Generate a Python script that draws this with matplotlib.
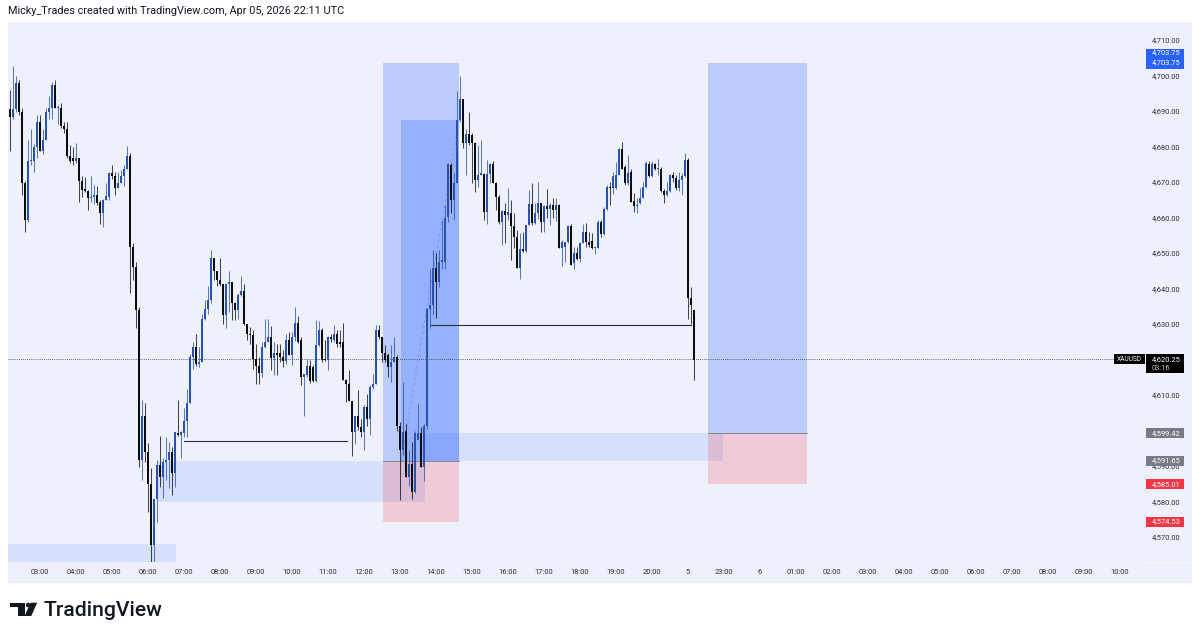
import matplotlib
matplotlib.use("Agg")
import matplotlib.pyplot as plt
from matplotlib.patches import Rectangle, Polygon, Circle

plt.rcParams['font.family'] = ['Roboto', 'DejaVu Sans']

# 5 minute XAUUSD candles
opens = [
    4690.7, 4688.6, 4690.7, 4698, 4690, 4670, 4659.5, 4676, 4676, 4680, 4687, 4679,
    4682, 4690, 4691, 4697.5, 4691, 4691, 4686, 4685, 4677.6, 4677, 4676, 4677,
    4670.6, 4668, 4667.8, 4665.6, 4666, 4666.5, 4664.5, 4661.6, 4665, 4666, 4672.6, 4672,
    4668.5, 4670, 4672, 4674, 4677.4, 4651.8, 4646.3, 4634, 4591.9, 4604.3, 4594.2, 4585.1,
    4567.9, 4580.8, 4590.5, 4587, 4591.4, 4591.8, 4594.2, 4588.3, 4599.4, 4599, 4599.6, 4603,
    4608, 4621, 4623.7, 4619, 4619.5, 4631.7, 4634.3, 4637, 4648.7, 4645, 4642.6, 4641.4,
    4632.7, 4641.4, 4642, 4636, 4634, 4638.3, 4639.5, 4630.3, 4627.5, 4627, 4620.4, 4618.5,
    4616.4, 4623.7, 4625, 4626.5, 4620.7, 4622, 4622, 4621, 4619.8, 4625.6, 4621.4, 4626.5,
    4630.5, 4625.8, 4615.3, 4615.7, 4618.5, 4618, 4614, 4624.2, 4628.6, 4620.4, 4620, 4626.5,
    4625.6, 4627.5, 4625, 4625, 4614.5, 4613.4, 4608.5, 4599.7, 4604.2, 4601.2, 4599.7, 4606.8,
    4603.5, 4612.4, 4613.4, 4628.4, 4626.4, 4621.9, 4621.4, 4618, 4619.5, 4621, 4601.6, 4594.7,
    4600, 4587.2, 4590.8, 4582.8, 4597.4, 4599.5, 4589.9, 4601.6, 4634.3, 4635.6, 4646.1, 4642.1,
    4647.8, 4647.7, 4660.4, 4675, 4665, 4669.8, 4687.7, 4693.5, 4681.1, 4683.8, 4683.5, 4681.1,
    4670.8, 4672.2, 4672.5, 4661.8, 4672.5, 4675.3, 4670, 4666, 4659, 4662, 4660.9, 4661.4,
    4657.8, 4654.8, 4646.1, 4651.2, 4650.8, 4658, 4664, 4658.7, 4661.4, 4664.2, 4659, 4663.3,
    4662.5, 4663.7, 4662.3, 4663.7, 4651.5, 4651.8, 4653.4, 4657.9, 4647.3, 4650.2, 4648.4, 4653,
    4656.2, 4653.4, 4653.6, 4651.5, 4651.5, 4659, 4655.5, 4662.5, 4668.9, 4668.4, 4668.5, 4672.2,
    4679.4, 4674.5, 4669.8, 4673, 4664.9, 4663.4, 4664.2, 4665.6, 4668.9, 4675.2, 4671.9, 4675.2,
    4673.8, 4674, 4667.8, 4666.5, 4667.8, 4672.2, 4671.2, 4668.4, 4670.8, 4671.9, 4676.4, 4637.4,
    4634.1,
]
highs = [
    4696, 4703, 4700, 4699, 4691, 4670.5, 4682, 4685, 4681, 4689, 4689, 4685,
    4691, 4694.5, 4698.5, 4699, 4692, 4692.4, 4687, 4687, 4680.6, 4680, 4681.3, 4677,
    4672, 4671.7, 4668, 4672, 4669.4, 4669, 4665, 4665.3, 4670, 4673, 4675, 4673,
    4673, 4673.6, 4675, 4680.4, 4678.5, 4653, 4647.7, 4635, 4608.8, 4608, 4596.8, 4589.5,
    4580.8, 4591.9, 4598.6, 4592.4, 4598.5, 4597, 4595.6, 4599.9, 4608.8, 4600.1, 4606.4, 4612,
    4621.8, 4625, 4627.3, 4623.7, 4633, 4637, 4641, 4651, 4648.7, 4645, 4648.7, 4641.6,
    4641.6, 4645, 4642, 4636.4, 4638.8, 4643.7, 4641.6, 4630.3, 4629.4, 4628.6, 4624.7, 4620.9,
    4625, 4631.7, 4631.7, 4629.6, 4625, 4624.7, 4624.7, 4622.8, 4627.5, 4628, 4628, 4635,
    4632.4, 4626.5, 4616.2, 4620.4, 4620, 4618.6, 4631.3, 4631, 4629, 4625.6, 4626.7, 4627.5,
    4630, 4628.4, 4628.6, 4630.5, 4614.8, 4617.3, 4608.5, 4604.4, 4611.7, 4603.5, 4607.3, 4610.5,
    4613, 4616.2, 4629.8, 4629.8, 4626.6, 4624.2, 4622, 4624.2, 4626.4, 4621.4, 4602.6, 4613.9,
    4602, 4594.6, 4596.9, 4600, 4607.6, 4601.2, 4602, 4634.6, 4645.6, 4651, 4650.1, 4651,
    4659.5, 4663.7, 4675.5, 4675.5, 4672.7, 4695.7, 4700, 4693.5, 4685, 4689.8, 4684, 4681.6,
    4680.7, 4682, 4672.7, 4676.4, 4675.5, 4676, 4670.3, 4666.5, 4662.3, 4664.2, 4668.4, 4665,
    4661.4, 4656.7, 4655.9, 4656.2, 4658.1, 4668, 4669.8, 4664.2, 4670.3, 4664.2, 4663.7, 4668.1,
    4664.2, 4665.6, 4665.6, 4664, 4653.8, 4653.4, 4658, 4658.3, 4652, 4652, 4653.4, 4658.4,
    4658.7, 4656.2, 4655.7, 4652, 4659.5, 4659.5, 4663.2, 4669.4, 4670.3, 4673.1, 4675.7, 4679.7,
    4681.6, 4675, 4677.8, 4673.8, 4667, 4665.6, 4668.4, 4670.3, 4676.2, 4676.2, 4676.2, 4675.5,
    4676.6, 4674.3, 4668.1, 4670.3, 4672.4, 4673.1, 4672.2, 4673.1, 4672.6, 4678.3, 4677, 4640.7,
    4634.2,
]
lows = [
    4678.8, 4688, 4690, 4689, 4666.5, 4656, 4659, 4675, 4673, 4677, 4679, 4678,
    4682, 4688, 4688, 4691, 4686.5, 4685.5, 4684, 4677, 4675.5, 4675, 4675.5, 4664.5,
    4666, 4667.5, 4662.3, 4664.6, 4664, 4663.7, 4658.5, 4657.6, 4665, 4665, 4671, 4666.5,
    4668.5, 4670, 4669, 4674, 4638.8, 4642.6, 4629.2, 4590, 4586.2, 4591.4, 4577.3, 4563.2,
    4563.2, 4574.5, 4584.4, 4581.1, 4586.2, 4583.9, 4582, 4584.4, 4598.6, 4592.4, 4598.4, 4598.3,
    4608, 4617.6, 4618.3, 4618, 4619.5, 4631.4, 4633, 4636.1, 4642.6, 4641, 4641, 4630.3,
    4629, 4633.6, 4631.4, 4631.4, 4631.7, 4638, 4630, 4625.6, 4624.7, 4617.6, 4613.2, 4613.2,
    4615.3, 4623.5, 4625, 4617.3, 4615.7, 4615.7, 4619.5, 4618, 4619, 4621.4, 4618.6, 4625.5,
    4624.8, 4612.9, 4604.2, 4615.2, 4613.5, 4613.8, 4613.9, 4624, 4619.5, 4619.7, 4617.2, 4625,
    4625, 4623.7, 4623.7, 4614.3, 4608.2, 4608.5, 4592.9, 4596.4, 4600.2, 4598.3, 4594.6, 4601.6,
    4598.8, 4612, 4613.4, 4626, 4619.5, 4619.5, 4615.3, 4613.9, 4619.5, 4600, 4580.5, 4593.2,
    4587, 4584.7, 4581, 4582.5, 4597.4, 4589.9, 4586, 4600.7, 4629, 4632.7, 4631.8, 4640.6,
    4645.8, 4645.8, 4659, 4661.4, 4659.5, 4669.8, 4687, 4679.7, 4672.2, 4680.7, 4669.8, 4667.5,
    4668.9, 4672.2, 4659.5, 4658.5, 4669.8, 4669.8, 4662.3, 4658.5, 4652.4, 4652.9, 4659.5, 4648.2,
    4651.5, 4646.1, 4643, 4650.5, 4650.5, 4658, 4658, 4658.5, 4659.9, 4656.2, 4656.2, 4660,
    4658, 4660, 4659.3, 4651.5, 4646.5, 4647.7, 4652.9, 4646.8, 4645.8, 4648.2, 4647.7, 4653,
    4652, 4652, 4651.2, 4649.9, 4651.5, 4654.6, 4655.3, 4662.3, 4663.7, 4666.8, 4668.1, 4672.2,
    4674, 4669.4, 4669.4, 4664.7, 4661.8, 4661.4, 4664, 4665.6, 4668.4, 4671.7, 4671.7, 4673.6,
    4672.2, 4667.5, 4664.4, 4666.3, 4667.5, 4670.3, 4668, 4667.8, 4666.5, 4671.7, 4631.7, 4630.3,
    4614.3,
]
closes = [
    4688.6, 4690.7, 4698, 4690, 4670, 4659.5, 4676, 4676, 4680, 4687, 4679, 4682,
    4690, 4691, 4697.5, 4691, 4691.2, 4686, 4685, 4677.6, 4676, 4676, 4677, 4670.6,
    4668, 4667.8, 4665.6, 4666, 4666.5, 4664.4, 4661.6, 4665, 4666.3, 4672.6, 4672, 4668.5,
    4670, 4672, 4674, 4677.4, 4651.8, 4646.3, 4634, 4591.9, 4604.3, 4594.2, 4585.1, 4567.9,
    4580.8, 4590.5, 4587, 4591.4, 4591.8, 4594.2, 4588.3, 4599.9, 4599, 4599.7, 4603, 4608,
    4621, 4623.7, 4619, 4619.3, 4631.7, 4634.3, 4637, 4648.7, 4645, 4642.6, 4641.4, 4632.7,
    4641.4, 4642, 4636, 4634, 4638.3, 4639.5, 4630.3, 4627.5, 4627, 4620.4, 4618.5, 4616.4,
    4623.7, 4625, 4626.5, 4620.7, 4622, 4621.5, 4621, 4619.8, 4625.6, 4621.4, 4626.5, 4630.5,
    4625, 4615.3, 4616, 4618.5, 4614, 4614, 4624.2, 4628.6, 4620, 4620, 4626.5, 4626,
    4627.5, 4624.7, 4624.6, 4614.5, 4613.4, 4608.5, 4599.7, 4604.2, 4601.2, 4599.7, 4606.8, 4603.5,
    4612.4, 4613.4, 4628.4, 4626.4, 4621.9, 4620, 4618, 4619.5, 4621, 4601.6, 4594.7, 4599.7,
    4587.2, 4590.8, 4582.8, 4599.5, 4599.5, 4589.9, 4601.6, 4634.3, 4635.6, 4646.1, 4642.1, 4647.8,
    4648, 4660, 4675.3, 4665, 4669.8, 4687.7, 4693.5, 4681.1, 4683.8, 4681.1, 4681.1, 4670.8,
    4672.2, 4672.6, 4661.8, 4672.5, 4675.3, 4670, 4666, 4659, 4662, 4660.9, 4661.8, 4657.8,
    4654.8, 4646.1, 4651.2, 4650.8, 4658, 4664, 4658.7, 4661.4, 4664.2, 4659, 4663.3, 4662.5,
    4663.7, 4662.3, 4663.7, 4651.5, 4653.4, 4653.4, 4657.9, 4646.8, 4650.2, 4648.4, 4653, 4656.2,
    4653.4, 4652.4, 4651.5, 4651.8, 4659, 4655.5, 4662.5, 4668.9, 4668.4, 4671.9, 4672.2, 4679.4,
    4674, 4669.8, 4672.8, 4664.7, 4663.4, 4663.4, 4665.6, 4668.9, 4675.5, 4671.9, 4675.2, 4673.8,
    4673.9, 4667.8, 4666.5, 4667.8, 4672.2, 4671.2, 4668.4, 4670.8, 4671.9, 4676.4, 4637.4, 4635.5,
    4620,
]

time_labels = ["03:00", "04:00", "05:00", "06:00", "07:00", "08:00", "09:00", "10:00", "11:00",
               "12:00", "13:00", "14:00", "15:00", "16:00", "17:00", "18:00", "19:00", "20:00",
               "5", "23:00", "6", "01:00", "02:00", "03:00", "04:00", "05:00", "06:00", "07:00",
               "08:00", "09:00", "10:00"]
price_ticks = [4710, 4700, 4690, 4680, 4670, 4660, 4650, 4640, 4630, 4620, 4610, 4600, 4590, 4580, 4570]

last_price = 4620.25
countdown = "03:16"
target_price = 4703.75
entry_low = 4591.65
entry_high = 4599.42
stop_high = 4585.01
stop_low = 4574.53
inner_top = 4687.7
level_low = 4597.2
level_high = 4629.9
box_a = [4563.15, 4568.2]
box_b = [4580.0, 4591.65]

W, H = 1200, 636
PX = 1 / 3.55  # one pixel in price units
YMAX = 4715.27
YMIN = 4563.15

fig = plt.figure(figsize=(W / 100, H / 100), dpi=100, facecolor='white')

bg = fig.add_axes([0, 0, 1, 1], zorder=0)
bg.set_xlim(0, W)
bg.set_ylim(H, 0)
bg.axis('off')
bg.add_patch(Rectangle((8, 22), 1184, 561, color='#eef1fb', lw=0))
bg.plot([1145, 1192], [562, 562], color='#f8f9fd', lw=0.7)
bg.text(8, 11, "Micky_Trades created with TradingView.com, Apr 05, 2026 22:11 UTC",
        fontsize=7.8, color='#131722', va='center')

# TradingView logo
bg.add_patch(Polygon([(10, 602.7), (25, 602.7), (25, 616), (18.3, 616), (18.3, 607.4), (10, 607.4)],
                     color='#131722', lw=0))
bg.add_patch(Circle((28.2, 605), 2.3, color='#131722', lw=0))
bg.add_patch(Polygon([(30.6, 602.7), (37.2, 602.7), (31.3, 616), (24.6, 616)], color='#131722', lw=0))
bg.text(43.5, 610, "TradingView", fontsize=15.2, color='#131722', va='center', fontweight='medium')

ax = fig.add_axes([8 / W, 1 - 562 / H, 1137 / W, 540 / H], zorder=1)
ax.patch.set_alpha(0)
ax.set_xlim(-2 / 3, 1135 / 3)
ax.set_ylim(YMIN, YMAX)
for s in ax.spines.values():
    s.set_visible(False)
ax.set_yticks([])
ax.set_xticks([10 + 12 * k for k in range(len(time_labels))], time_labels)
ax.tick_params(axis='x', length=0, pad=5, labelsize=5.4, labelcolor='#2a2e39')

# boxes
blue = '#2962ff'
red = '#f23645'
ax.add_patch(Rectangle((-2 / 3, box_a[0]), 56, box_a[1] - box_a[0], color=blue, alpha=0.12, lw=0))
ax.add_patch(Rectangle((49.33, box_b[0]), 89, box_b[1] - box_b[0], color=blue, alpha=0.12, lw=0))
ax.add_patch(Rectangle((138.33, entry_low), 99.34, entry_high - entry_low, color=blue, alpha=0.12, lw=0))

# long positions
ax.add_patch(Rectangle((124.33, entry_low), 25.34, target_price - entry_low, color=blue, alpha=0.25, lw=0))
ax.add_patch(Rectangle((124.33, stop_low), 25.34, entry_low - stop_low, color=red, alpha=0.2, lw=0))
ax.add_patch(Rectangle((130.33, entry_low), 19.34, inner_top - entry_low, color=blue, alpha=0.25, lw=0))
ax.plot([130.33, 149.67], [entry_low, inner_top], color='#7f95d8', lw=0.7, ls=(0, (3, 3)))
ax.plot([124.33, 149.67], [entry_low, entry_low], color='#787b86', lw=0.6)
ax.add_patch(Rectangle((232.67, entry_high), 33, target_price - entry_high, color=blue, alpha=0.25, lw=0))
ax.add_patch(Rectangle((232.67, stop_high), 33, entry_high - stop_high, color=red, alpha=0.2, lw=0))
ax.plot([232.67, 265.67], [entry_high, entry_high], color='#787b86', lw=0.6)

# last price dotted line and horizontal levels
ax.plot([-2 / 3, 368], [last_price, last_price], color='#333333', lw=0.6, ls=(0, (1, 1.5)))
ax.plot([58, 112.33], [level_low, level_low], color='#2a2e39', lw=0.8)
ax.plot([140.33, 227], [level_high, level_high], color='#2a2e39', lw=0.8)

# candles
idx = list(range(len(opens)))
colors = []
bottoms = []
heights = []
for i in idx:
    colors.append('#2a52ac' if closes[i] >= opens[i] else '#0c0c0c')
    bottoms.append(min(opens[i], closes[i]))
    heights.append(max(abs(closes[i] - opens[i]), 0.4))
ax.vlines(idx, lows, highs, colors=colors, lw=0.75, alpha=0.75, zorder=3)
ax.bar(idx, heights, bottom=bottoms, width=0.68, color=colors, lw=0, zorder=4)

# symbol tag
ax.add_patch(Rectangle((368, last_price - 5 * PX), 10.33, 10 * PX, color='#000000', lw=0, zorder=5))
ax.text(373.2, last_price, "XAUUSD", color='white', fontsize=4.8, ha='center', va='center', zorder=6)

# price scale
pax = fig.add_axes([1145 / W, 1 - 562 / H, 47 / W, 540 / H], zorder=2)
pax.patch.set_alpha(0)
pax.set_xlim(0, 47)
pax.set_ylim(YMIN, YMAX)
pax.axis('off')
for p in price_ticks:
    pax.text(7, p, f"{p:,.2f}", fontsize=5.4, color='#2a2e39', va='center')


def price_tag(price, color):
    pax.add_patch(Rectangle((1, price - 5 * PX), 38, 10 * PX, color=color, lw=0, zorder=3))
    pax.text(7, price, f"{price:,.2f}", fontsize=5.4, color='white', va='center', zorder=4)


price_tag(entry_high, '#787b86')
price_tag(entry_low, '#787b86')
price_tag(stop_high, red)
price_tag(stop_low, red)

pax.add_patch(Rectangle((1, target_price - 6.4 * PX), 38, 20 * PX, color=blue, lw=0, zorder=3))
pax.text(7, target_price, f"{target_price:,.2f}", fontsize=5.4, color='white', va='center', zorder=4)
pax.text(7, target_price + 10 * PX, f"{target_price:,.2f}", fontsize=5.4, color='white', va='center', zorder=4)

pax.add_patch(Rectangle((1, last_price - 14 * PX), 38, 19 * PX, color='#000000', lw=0, zorder=3))
pax.text(7, last_price, f"{last_price:,.2f}", fontsize=5.4, color='white', va='center', zorder=4)
pax.text(7, last_price - 9 * PX, countdown, fontsize=5.4, color='#c8c8c8', va='center', zorder=4)

fig.savefig("out.png", dpi=100, facecolor='white')
